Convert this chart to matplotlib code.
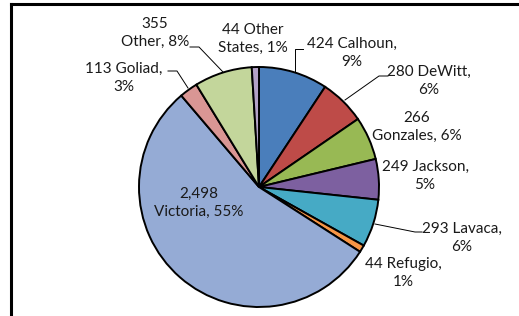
"""Pie chart of counts by county, Excel-style labels."""

import matplotlib

matplotlib.use("Agg")
import matplotlib.pyplot as plt

# data (clockwise from 12 o'clock)
counties = ["Calhoun", "DeWitt", "Gonzales", "Jackson", "Lavaca",
            "Refugio", "Victoria", "Goliad", "Other", "Other States"]
counts = [424, 280, 266, 249, 293, 44, 2498, 113, 355, 44]
percents = [9, 6, 6, 5, 6, 1, 55, 3, 8, 1]

colors = ["#4a7ebb", "#be4b48", "#98b954", "#7d60a0", "#46aac5",
          "#f79646", "#95abd5", "#d99694", "#c3d69b", "#b3a2c7"]

# layout in pixels (image coords, y down)
W, H = 519, 316
center = (259, 187)
radius = 120
# label centre, words before the line break, leader polyline (or None)
label_pos = [(352, 53), (429, 81), (417, 127), (425, 176), (462, 238),
             (403, 273), (199, 203), (124, 78), (155, 33), (253, 39)]
label_break = [2, 2, 1, 2, 2, 2, 1, 2, 1, 2]
leaders = [
    [(303, 49), (295, 49), (295, 72)],
    [(388, 76), (379, 76), (345, 100)],
    None,
    None,
    [(422, 232), (415, 232), (375, 224)],
    None,
    None,
    [(168, 71), (177, 71), (188, 88)],
    [(190, 47), (199, 47), (223, 72)],
    None,
]

fig = plt.figure(figsize=(W / 100, H / 100), dpi=100)
ax = fig.add_axes([0, 0, 1, 1])

ax.pie(
    counts,
    colors=colors,
    startangle=90,
    counterclock=False,
    center=(center[0], H - center[1]),
    radius=radius,
    wedgeprops=dict(edgecolor="black", linewidth=1.4),
    frame=True,
)
ax.set_xlim(0, W)
ax.set_ylim(0, H)
ax.set_aspect("equal")
ax.axis("off")

for name, n, pct, (x, y), brk, lead in zip(
    counties, counts, percents, label_pos, label_break, leaders
):
    words = f"{n:,} {name}, {pct}%".split(" ")
    text = " ".join(words[:brk]) + "\n" + " ".join(words[brk:])
    ax.text(x, H - y, text, ha="center", va="center", fontsize=11,
            family="Lato", color="#1a1a1a", linespacing=1.3)
    if lead is not None:
        ax.plot([p[0] for p in lead], [H - p[1] for p in lead],
                color="black", linewidth=0.7)

# chart area frame (only top and left edges fall inside the crop)
ax.plot([10.5, 10.5], [H - 4, -5], color="black", linewidth=2.2,
        solid_capstyle="projecting", clip_on=False)
ax.plot([10.5, W + 5], [H - 4, H - 4], color="black", linewidth=2.2,
        solid_capstyle="projecting", clip_on=False)

fig.savefig("out.png", dpi=100)
plt.close(fig)
